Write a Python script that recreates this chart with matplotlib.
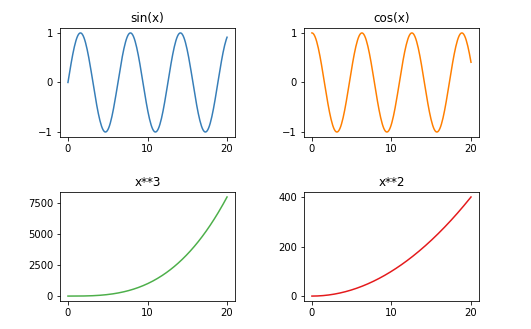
import numpy as np
import matplotlib
matplotlib.use("Agg")
import matplotlib.pyplot as plt

# Data: the functions named in each panel title, sampled over 0..20
x = np.linspace(0, 20, 200)
sin_y = np.sin(x)
cos_y = np.cos(x)
cube_y = x ** 3
square_y = x ** 2

titles = ["sin(x)", "cos(x)", "x**3", "x**2"]
series = [sin_y, cos_y, cube_y, square_y]
colors = ["#377eb8", "#ff7f00", "#4daf4a", "#e41a1c"]
x_ticks = [0, 10, 20]
y_ticks = [[-1, 0, 1], [-1, 0, 1], [0, 2500, 5000, 7500], [0, 200, 400]]

fig, axes = plt.subplots(2, 2, figsize=(531 / 72, 329 / 72), dpi=72)
fig.subplots_adjust(left=0.113, right=0.902, top=0.915, bottom=0.085,
                    wspace=0.394, hspace=0.505)

for ax, t, y, c, yt in zip(axes.flat, titles, series, colors, y_ticks):
    ax.plot(x, y, color=c, lw=1.5)
    ax.set_title(t, fontsize=12)
    ax.set_xticks(x_ticks)
    ax.set_yticks(yt)
    ax.tick_params(labelsize=10)

fig.savefig("out.png", dpi=72)
